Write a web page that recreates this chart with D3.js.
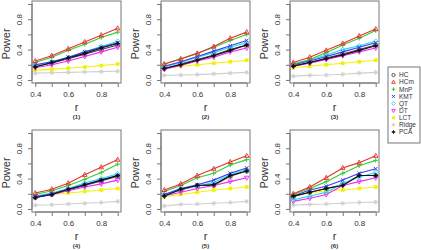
<!DOCTYPE html>
<html><head><meta charset="utf-8">
<script src="https://cdn.jsdelivr.net/npm/d3@7"></script>
<style>body{margin:0;background:#fff}svg{display:block;font-family:"Liberation Sans",Arial,sans-serif}</style>
</head><body>
<script>
const rValues = [0.4, 0.5, 0.6, 0.7, 0.8, 0.9];
const seriesNames = ["HC","HCm","MnP","KMT","QT","DT","LCT","Ridge","PCA"];
const panelLabels = ["(1)","(2)","(3)","(4)","(5)","(6)"];
const xTickLabels = [0.4, 0.6, 0.8];
const yTickLabels = [0.0, 0.4, 0.8];
// values per panel, per series (order as seriesNames)
const panel1 = [
 [0.18,0.22,0.28,0.34,0.40,0.46],
 [0.25,0.32,0.41,0.50,0.59,0.68],
 [0.23,0.30,0.39,0.47,0.56,0.63],
 [0.20,0.24,0.30,0.37,0.43,0.49],
 [0.19,0.24,0.29,0.37,0.44,0.51],
 [0.16,0.20,0.25,0.31,0.37,0.43],
 [0.13,0.14,0.155,0.17,0.19,0.21],
 [0.09,0.095,0.10,0.105,0.11,0.115],
 [0.17,0.23,0.29,0.35,0.42,0.48]];
const panel2 = [
 [0.15,0.21,0.27,0.33,0.40,0.46],
 [0.21,0.275,0.35,0.44,0.55,0.63],
 [0.21,0.28,0.35,0.43,0.52,0.60],
 [0.18,0.24,0.31,0.38,0.45,0.52],
 [0.17,0.23,0.30,0.36,0.43,0.49],
 [0.14,0.19,0.25,0.30,0.37,0.42],
 [0.155,0.18,0.20,0.22,0.24,0.26],
 [0.06,0.065,0.07,0.08,0.09,0.10],
 [0.15,0.20,0.26,0.32,0.39,0.46]];
const panel3 = [
 [0.19,0.23,0.29,0.34,0.40,0.46],
 [0.23,0.30,0.39,0.48,0.58,0.67],
 [0.21,0.27,0.36,0.46,0.55,0.65],
 [0.20,0.25,0.31,0.37,0.43,0.49],
 [0.21,0.26,0.33,0.40,0.45,0.51],
 [0.18,0.22,0.27,0.32,0.37,0.42],
 [0.16,0.18,0.20,0.22,0.24,0.26],
 [0.05,0.06,0.065,0.075,0.09,0.10],
 [0.18,0.23,0.28,0.33,0.39,0.45]];
const panel4 = [
 [0.15,0.19,0.25,0.31,0.37,0.43],
 [0.21,0.26,0.34,0.45,0.55,0.65],
 [0.19,0.24,0.31,0.39,0.48,0.59],
 [0.16,0.20,0.26,0.32,0.38,0.44],
 [0.17,0.21,0.27,0.34,0.40,0.46],
 [0.15,0.19,0.24,0.29,0.33,0.38],
 [0.17,0.19,0.21,0.23,0.25,0.27],
 [0.05,0.055,0.065,0.075,0.085,0.10],
 [0.15,0.19,0.26,0.32,0.38,0.44]];
const panel5 = [
 [0.18,0.25,0.31,0.31,0.43,0.50],
 [0.25,0.33,0.44,0.53,0.62,0.70],
 [0.23,0.31,0.41,0.47,0.58,0.65],
 [0.19,0.27,0.32,0.38,0.47,0.54],
 [0.18,0.26,0.30,0.35,0.45,0.52],
 [0.17,0.22,0.27,0.31,0.36,0.41],
 [0.16,0.19,0.22,0.25,0.27,0.29],
 [0.04,0.06,0.065,0.075,0.085,0.10],
 [0.17,0.26,0.31,0.32,0.44,0.50]];
const panel6 = [
 [0.16,0.22,0.27,0.32,0.44,0.44],
 [0.20,0.29,0.41,0.54,0.61,0.70],
 [0.19,0.27,0.36,0.47,0.57,0.64],
 [0.17,0.25,0.30,0.38,0.47,0.53],
 [0.12,0.17,0.22,0.34,0.42,0.48],
 [0.10,0.14,0.19,0.31,0.36,0.41],
 [0.18,0.21,0.24,0.25,0.27,0.29],
 [0.05,0.06,0.065,0.075,0.085,0.09],
 [0.17,0.22,0.27,0.31,0.44,0.44]];
const panels = [panel1, panel2, panel3, panel4, panel5, panel6];

const colors = {HC:"#444444",HCm:"#e8322c",MnP:"#33cc33",KMT:"#3a3af5",QT:"#22d8ee",DT:"#ee2aee",LCT:"#f2f200",Ridge:"#cfcfcf",PCA:"#111111"};

const svg = d3.select("body").append("svg").attr("width",421).attr("height",250);

function marker(g, name, x, y, s){
  const c = colors[name];
  if(name==="HC"){ g.append("circle").attr("cx",x).attr("cy",y).attr("r",s*0.9).attr("fill","none").attr("stroke",c).attr("stroke-width",0.9); }
  else if(name==="HCm"){ g.append("path").attr("d",`M${x},${y-s*1.1}L${x+s},${y+s*0.7}L${x-s},${y+s*0.7}Z`).attr("fill","none").attr("stroke",c).attr("stroke-width",0.9); }
  else if(name==="MnP"){ g.append("path").attr("d",`M${x-s},${y}H${x+s}M${x},${y-s}V${y+s}`).attr("stroke",c).attr("stroke-width",1); }
  else if(name==="KMT"){ g.append("path").attr("d",`M${x-s*0.8},${y-s*0.8}L${x+s*0.8},${y+s*0.8}M${x-s*0.8},${y+s*0.8}L${x+s*0.8},${y-s*0.8}`).attr("stroke",c).attr("stroke-width",1); }
  else if(name==="QT"){ g.append("path").attr("d",`M${x},${y-s}L${x+s},${y}L${x},${y+s}L${x-s},${y}Z`).attr("fill","none").attr("stroke",c).attr("stroke-width",0.9); }
  else if(name==="DT"){ g.append("path").attr("d",`M${x},${y+s*1.1}L${x+s},${y-s*0.7}L${x-s},${y-s*0.7}Z`).attr("fill","none").attr("stroke",c).attr("stroke-width",0.9); }
  else if(name==="LCT"){ g.append("rect").attr("x",x-s*0.8).attr("y",y-s*0.8).attr("width",s*1.6).attr("height",s*1.6).attr("fill",c); }
  else if(name==="Ridge"){ g.append("path").attr("d",`M${x-s},${y}H${x+s}M${x},${y-s}V${y+s}M${x-s*0.7},${y-s*0.7}L${x+s*0.7},${y+s*0.7}M${x-s*0.7},${y+s*0.7}L${x+s*0.7},${y-s*0.7}`).attr("stroke",c).attr("stroke-width",1); }
  else if(name==="PCA"){ g.append("path").attr("d",`M${x},${y-s*0.9}L${x+s*0.9},${y}L${x},${y+s*0.9}L${x-s*0.9},${y}Z`).attr("fill",c);
    g.append("path").attr("d",`M${x-s*1.1},${y}H${x+s*1.1}M${x},${y-s*1.1}V${y+s*1.1}`).attr("stroke",c).attr("stroke-width",0.7); }
}

const lefts = [32, 161, 290], tops = [1, 130];
const W = 89, H = 82;
const axisCol = "#777";

panels.forEach((pd, i) => {
  const L = lefts[i % 3], T = tops[Math.floor(i / 3)];
  const x = d3.scaleLinear().domain([0.38, 0.92]).range([L, L + W]);
  const y = d3.scaleLinear().domain([-0.04, 1.04]).range([T + H, T]);
  const g = svg.append("g");
  g.append("rect").attr("x",L).attr("y",T).attr("width",W).attr("height",H)
    .attr("fill","none").attr("stroke",axisCol).attr("stroke-width",1);
  const xa = g.append("g").attr("transform",`translate(0,${T+H})`)
    .call(d3.axisBottom(x).tickValues(rValues).tickSize(4).tickFormat(d => xTickLabels.includes(d) ? d3.format(".1f")(d) : ""));
  xa.select(".domain").attr("d",`M${x(0.4)},0H${x(0.9)}`).attr("stroke",axisCol);
  xa.selectAll(".tick line").attr("stroke",axisCol);
  xa.selectAll("text").attr("font-size","8px").attr("fill","#333").attr("dy","0.9em").attr("font-family","Liberation Sans, Arial, sans-serif");
  const ya = g.append("g").attr("transform",`translate(${L},0)`)
    .call(d3.axisLeft(y).tickValues([0,0.2,0.4,0.6,0.8,1.0]).tickSize(4).tickFormat(d => yTickLabels.some(v => Math.abs(v-d)<1e-9) ? d3.format(".1f")(d) : ""));
  ya.select(".domain").attr("d",`M0,${y(0)}V${y(1)}`).attr("stroke",axisCol);
  ya.selectAll(".tick line").attr("stroke",axisCol);
  ya.selectAll("text").attr("font-size","8px").attr("fill","#333").attr("font-family","Liberation Sans, Arial, sans-serif")
    .attr("x",0).attr("dy",0).attr("text-anchor","middle")
    .attr("transform","translate(-10,0) rotate(-90)");
  g.append("text").attr("x",L-26).attr("y",T+H/2+2).attr("transform",`rotate(-90,${L-26},${T+H/2+2})`)
    .attr("text-anchor","middle").attr("dy","0.35em").attr("font-size","11px").attr("fill","#333").text("Power");
  g.append("text").attr("x",L+W/2).attr("y",T+H+28).attr("text-anchor","middle").attr("font-size","11px").attr("fill","#333").text("r");
  g.append("text").attr("x",L+W/2).attr("y",T+H+36).attr("text-anchor","middle").attr("font-size","6px").attr("font-weight","bold").attr("fill","#333").text(panelLabels[i]);
  const line = d3.line().x((d,j) => x(rValues[j])).y(d => y(d));
  const order = [7,6,0,5,4,3,2,1,8];
  order.forEach(k => {
    const name = seriesNames[k];
    g.append("path").attr("d", line(pd[k])).attr("fill","none").attr("stroke",colors[name]).attr("stroke-width",1.1);
    pd[k].forEach((v,j) => marker(g, name, x(rValues[j]), y(v), 2.3));
  });
});

const lg = svg.append("g");
const ly = d3.scalePoint().domain(seriesNames).range([75, 132]);
lg.append("rect").attr("x",388).attr("y",67).attr("width",32).attr("height",76).attr("fill","#fff").attr("stroke","#777").attr("stroke-width",1);
seriesNames.forEach(n => {
  marker(lg, n, 393.5, ly(n), 1.8);
  lg.append("text").attr("x",399).attr("y",ly(n)).attr("dy","0.35em").attr("font-size","6.5px").attr("fill","#333").text(n);
});
</script>
</body></html>
